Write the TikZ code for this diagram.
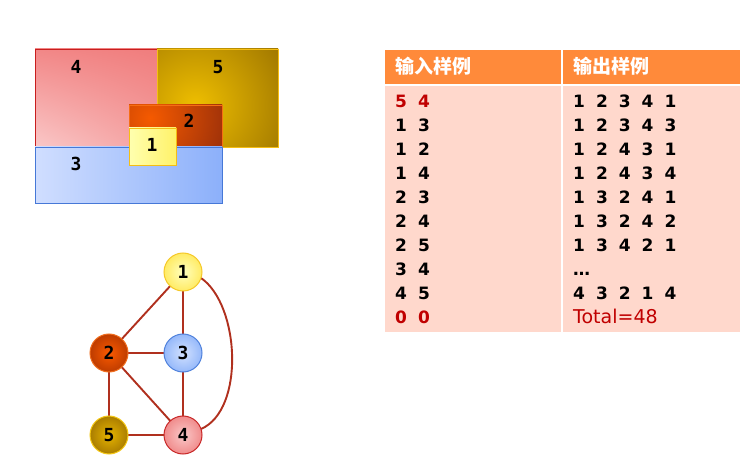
\documentclass[tikz,border=0pt]{standalone}
\usepackage{fontspec}
\setmainfont{DejaVu Sans}
\newfontfamily\cjk{Noto Sans CJK SC}
\newfontfamily\numf{DejaVu Sans Mono}
\newfontfamily\bodyf{DejaVu Sans}
\newcommand\widesp{\spaceskip=11pt\relax}
\usetikzlibrary{shadows,shadings,calc}
\definecolor{edgec}{HTML}{B0301E}
\definecolor{hdr}{HTML}{FF8A3A}
\definecolor{bodyc}{HTML}{FFD8CC}
\definecolor{redt}{HTML}{C00000}
\tikzset{
  rlabel/.style={font={\numf\bfseries\fontsize{18}{18}\selectfont}, text=black},
  gnode/.style={circle, minimum size=38pt, inner sep=0pt, line width=1pt, font={\numf\bfseries\fontsize{18}{18}\selectfont}},
  edge/.style={draw=edgec, line width=1.9pt},
  hcell/.style={fill=hdr, draw=none},
  bcell/.style={fill=bodyc, draw=none},
  htext/.style={anchor=base west, text=white, font={\cjk\bfseries\fontsize{19}{19}\selectfont}, inner sep=0pt},
  btext/.style={anchor=base west, font={\bodyf\bfseries\fontsize{17}{17}\selectfont}, inner sep=0pt},
  ttext/.style={anchor=base west, font={\bodyf\fontsize{19}{19}\selectfont}, inner sep=0pt},
}
\begin{document}
\begin{tikzpicture}[x=1pt,y=-1pt]
\useasboundingbox (0,0) rectangle (756,457);
% rectangle 4
\shade[lower left={rgb,255:red,250;green,200;blue,200}, upper right={rgb,255:red,240;green,125;blue,125}, upper left={rgb,255:red,242;green,135;blue,135}, lower right={rgb,255:red,244;green,160;blue,160}] (35,49) rectangle (157,147);
\draw[draw={rgb,255:red,200;green,30;blue,30}, line width=0.8pt] (35,147) -- (35,49) -- (157,49) -- (157,147);
% rectangle 5
\begin{scope}
\clip (157,49) rectangle (278,147);
\shade[inner color={rgb,255:red,238;green,190;blue,0}, outer color={rgb,255:red,150;green,110;blue,0}] (195,105) circle (115);
\end{scope}
\draw[draw={rgb,255:red,245;green,190;blue,20}, line width=0.8pt] (157,49) rectangle (278,147);
% rectangle 2
\begin{scope}
\clip (129,105) rectangle (222,147);
\shade[inner color={rgb,255:red,245;green,90;blue,0}, outer color={rgb,255:red,150;green,45;blue,10}] (150,118) circle (85);
\end{scope}
\draw[draw={rgb,255:red,245;green,110;blue,20}, line width=0.8pt] (129,147) -- (129,105) -- (222,105) -- (222,147);
% rectangle 3
\shade[left color={rgb,255:red,208;green,222;blue,255}, right color={rgb,255:red,140;green,176;blue,250}, drop shadow={opacity=0.3, shadow xshift=1pt, shadow yshift=-1.5pt}] (35,147) rectangle (222,203);
\draw[draw={rgb,255:red,70;green,120;blue,215}, line width=0.8pt] (35,147) rectangle (222,203);
% rectangle 1
\shade[left color={rgb,255:red,255;green,255;blue,175}, right color={rgb,255:red,255;green,242;blue,105}, drop shadow={opacity=0.3, shadow xshift=1pt, shadow yshift=-1.5pt}] (129,128) rectangle (176,165);
\draw[draw={rgb,255:red,245;green,190;blue,20}, line width=0.8pt] (129,128) rectangle (176,165);
\node[rlabel] (r4) at (76,67) {4};
\node[rlabel] (r5) at (218,67) {5};
\node[rlabel] (r2) at (189,121) {2};
\node[rlabel] (r1) at (152,145) {1};
\node[rlabel] (r3) at (76,164) {3};
% graph
\coordinate (p1) at (183,272);
\coordinate (p2) at (109,353);
\coordinate (p3) at (183,353);
\coordinate (p4) at (183,435);
\coordinate (p5) at (109,435);
\draw[edge] (p1) -- (p2);
\draw[edge] (p1) -- (p3);
\draw[edge] (p2) -- (p3);
\draw[edge] (p2) -- (p4);
\draw[edge] (p2) -- (p5);
\draw[edge] (p3) -- (p4);
\draw[edge] (p5) -- (p4);
\draw[edge] ($(p1)+(18,6)$) .. controls (240,305) and (245,410) .. ($(p4)+(18,-6)$);
\node[gnode, draw={rgb,255:red,245;green,200;blue,40}, inner color={rgb,255:red,255;green,255;blue,190}, outer color={rgb,255:red,255;green,235;blue,100}] (n1) at (p1) {1};
\node[gnode, draw={rgb,255:red,240;green,110;blue,30}, inner color={rgb,255:red,250;green,90;blue,0}, outer color={rgb,255:red,190;green,60;blue,0}] (n2) at (p2) {2};
\node[gnode, draw={rgb,255:red,80;green,130;blue,220}, inner color={rgb,255:red,210;green,225;blue,255}, outer color={rgb,255:red,150;green,185;blue,250}] (n3) at (p3) {3};
\node[gnode, draw={rgb,255:red,200;green,40;blue,40}, inner color={rgb,255:red,250;green,200;blue,200}, outer color={rgb,255:red,240;green,140;blue,140}] (n4) at (p4) {4};
\node[gnode, draw={rgb,255:red,245;green,200;blue,20}, inner color={rgb,255:red,230;green,180;blue,0}, outer color={rgb,255:red,170;green,125;blue,0}] (n5) at (p5) {5};
% table
\fill[hcell] (385,50) rectangle (561,84);
\fill[hcell] (563,50) rectangle (740,84);
\fill[bcell] (385,86) rectangle (561,332);
\fill[bcell] (563,86) rectangle (740,332);
\node[htext] (h1) at (395,74) {输入样例};
\node[htext] (h2) at (573,74) {输出样例};
\foreach \i/\a/\b/\ca/\cb in {0/5 4/1 2 3 4 1/redt/black, 1/1 3/1 2 3 4 3/black/black, 2/1 2/1 2 4 3 1/black/black, 3/1 4/1 2 4 3 4/black/black, 4/2 3/1 3 2 4 1/black/black, 5/2 4/1 3 2 4 2/black/black, 6/2 5/1 3 4 2 1/black/black, 7/3 4/{…}/black/black, 8/4 5/4 3 2 1 4/black/black}{
  \node[btext, text=\ca] (L\i) at (395,{107.5+24*\i}) {\widesp\a};
  \node[btext, text=\cb] (R\i) at (573,{107.5+24*\i}) {\widesp\b};
}
\node[btext, text=redt] (L9) at (395,323.5) {\widesp 0 0};
\node[ttext, text=redt] (R9) at (573,323.5) {Total=48};
\end{tikzpicture}
\end{document}
